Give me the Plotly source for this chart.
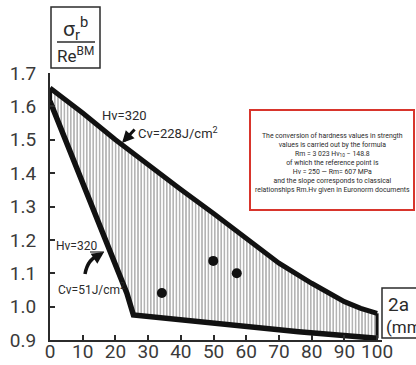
import plotly.graph_objects as go

# ---- data ----
upper_x = [0, 10, 20, 30, 40, 50, 60, 70, 80, 90, 95, 100]
upper_y = [1.655, 1.58, 1.50, 1.424, 1.351, 1.279, 1.205, 1.13, 1.07, 1.015, 0.995, 0.98]
lower_x = [0, 14.4, 23.5, 25.5, 45, 76, 100]
lower_y = [1.615, 1.26, 1.04, 0.975, 0.955, 0.925, 0.905]
pts_x = [34.2, 49.9, 57.1]
pts_y = [1.041, 1.137, 1.10]
x_ticks = [0, 10, 20, 30, 40, 50, 60, 70, 80, 90, 100]
y_ticks = [0.9, 1.0, 1.1, 1.2, 1.3, 1.4, 1.5, 1.6, 1.7]

FONT = "Roboto, Liberation Sans Narrow, DejaVu Sans Condensed, sans-serif"
INK = "#2b2b2b"

poly_x = upper_x + lower_x[::-1]
poly_y = upper_y + lower_y[::-1]

fig = go.Figure()
fig.add_trace(go.Scatter(
    x=poly_x, y=poly_y, mode="lines", fill="toself",
    line=dict(width=0, color="rgba(0,0,0,0)"),
    fillcolor="white",
    fillpattern=dict(shape="|", size=3.2, solidity=0.38, fgcolor="#3a3a3a", bgcolor="white"),
    hoverinfo="skip", showlegend=False))
fig.add_trace(go.Scatter(x=upper_x, y=upper_y, mode="lines",
                         line=dict(color="#111", width=5), showlegend=False))
fig.add_trace(go.Scatter(x=lower_x, y=lower_y, mode="lines",
                         line=dict(color="#111", width=5.5), showlegend=False))
fig.add_trace(go.Scatter(x=[upper_x[-1], lower_x[-1]], y=[upper_y[-1], lower_y[-1]], mode="lines",
                         line=dict(color="#111", width=3), showlegend=False))
fig.add_trace(go.Scatter(x=[upper_x[0], lower_x[0]], y=[upper_y[0], lower_y[0]], mode="lines",
                         line=dict(color="#111", width=4), showlegend=False))
fig.add_trace(go.Scatter(x=pts_x, y=pts_y, mode="markers",
                         marker=dict(color="#111", size=10), showlegend=False))

axis_common = dict(showgrid=False, zeroline=False, showline=True, linecolor=INK, linewidth=2,
                   ticks="inside", ticklen=5, tickwidth=1.5, tickcolor=INK, automargin=False,
                   tickfont=dict(family=FONT, size=19, color="#3a3a3a"))
fig.update_xaxes(range=[0, 101.5], tickvals=x_ticks, ticklabelstandoff=-7, **axis_common)
fig.update_yaxes(range=[0.9, 1.7], tickvals=y_ticks, tickformat=".1f", ticklabelstandoff=8, **axis_common)

def px2paper(px, py):
    return (px - 50) / 332, (340 - py) / 267

shapes = []
# y-label box
x0, y0 = px2paper(51, 68); x1, y1 = px2paper(100, 7)
shapes.append(dict(type="rect", xref="paper", yref="paper", x0=x0, y0=y0, x1=x1, y1=y1,
                   line=dict(color=INK, width=1.5)))
bx0, by = px2paper(57, 42); bx1, _ = px2paper(95, 42)
shapes.append(dict(type="line", xref="paper", yref="paper", x0=bx0, y0=by, x1=bx1, y1=by,
                   line=dict(color=INK, width=1.5)))
# 2a box
x0, y0 = px2paper(382, 338); x1, y1 = px2paper(430, 288)
shapes.append(dict(type="rect", xref="paper", yref="paper", x0=x0, y0=y0, x1=x1, y1=y1,
                   line=dict(color=INK, width=1.5), fillcolor="white"))
# red info box
x0, y0 = px2paper(250, 210); x1, y1 = px2paper(414, 110)
shapes.append(dict(type="rect", xref="paper", yref="paper", x0=x0, y0=y0, x1=x1, y1=y1,
                   line=dict(color="#d8352c", width=2), fillcolor="white"))
# underline of lower Hv label
ux0, uy = px2paper(90, 252); ux1, _ = px2paper(104, 252)
shapes.append(dict(type="line", xref="paper", yref="paper", x0=ux0, y0=uy, x1=ux1, y1=uy,
                   line=dict(color=INK, width=1.2)))
# curved arrow shaft (lower)
ax0, ay0 = px2paper(85, 274); axm, aym = px2paper(88, 258); ax1, ay1 = px2paper(100, 255)
shapes.append(dict(type="path", xref="paper", yref="paper",
                   path=f"M {ax0},{ay0} Q {axm},{aym} {ax1},{ay1}",
                   line=dict(color="#111", width=3.5)))
fig.update_layout(shapes=shapes)

def ann(px, py, text, size, **kw):
    x, y = px2paper(px, py)
    d = dict(x=x, y=y, xref="paper", yref="paper", text=text, showarrow=False,
             xanchor="center", yanchor="middle",
             font=dict(family=FONT, size=size, color=INK))
    d.update(kw)
    fig.add_annotation(**d)

ann(75, 28, "σ<sub>r</sub><sup>b</sup>", 21)
ann(75, 55, "Re<sup>BM</sup>", 17)
ann(398, 304, "2a", 19)
ann(384, 327, "(mm)", 17, xanchor="left")
ann(124, 116, "Hv=320", 13)
ann(178, 133, "Cv=228J/cm<sup>2</sup>", 13)
ann(76, 246, "Hv=320", 12)
ann(91, 289, "Cv=51J/cm<sup>2</sup>", 12)

info = ("The conversion of hardness values in strength<br>"
        "values is carried out by the formula<br>"
        "Rm = 3 023 Hv<sub>10</sub> − 148.8<br>"
        "of which the reference point is<br>"
        "Hv = 250 — Rm= 607 MPa<br>"
        "and the slope corresponds to classical<br>"
        "relationships Rm.Hv given in Euronorm documents")
ann(332, 163, info, 6.9)

# arrows
tx, ty = px2paper(122, 143)
fig.add_annotation(x=tx, y=ty, xref="paper", yref="paper", ax=14, ay=-15, text="",
                   showarrow=True, arrowhead=2, arrowsize=0.8, arrowwidth=3, arrowcolor="#111")
tx, ty = px2paper(104, 252)
fig.add_annotation(x=tx, y=ty, xref="paper", yref="paper", ax=-6, ay=4, text="",
                   showarrow=True, arrowhead=2, arrowsize=0.8, arrowwidth=3, arrowcolor="#111")

fig.update_layout(width=416, height=365, margin=dict(l=50, r=34, t=73, b=25),
                  plot_bgcolor="white", paper_bgcolor="white", showlegend=False)
fig.write_html("out.html")
